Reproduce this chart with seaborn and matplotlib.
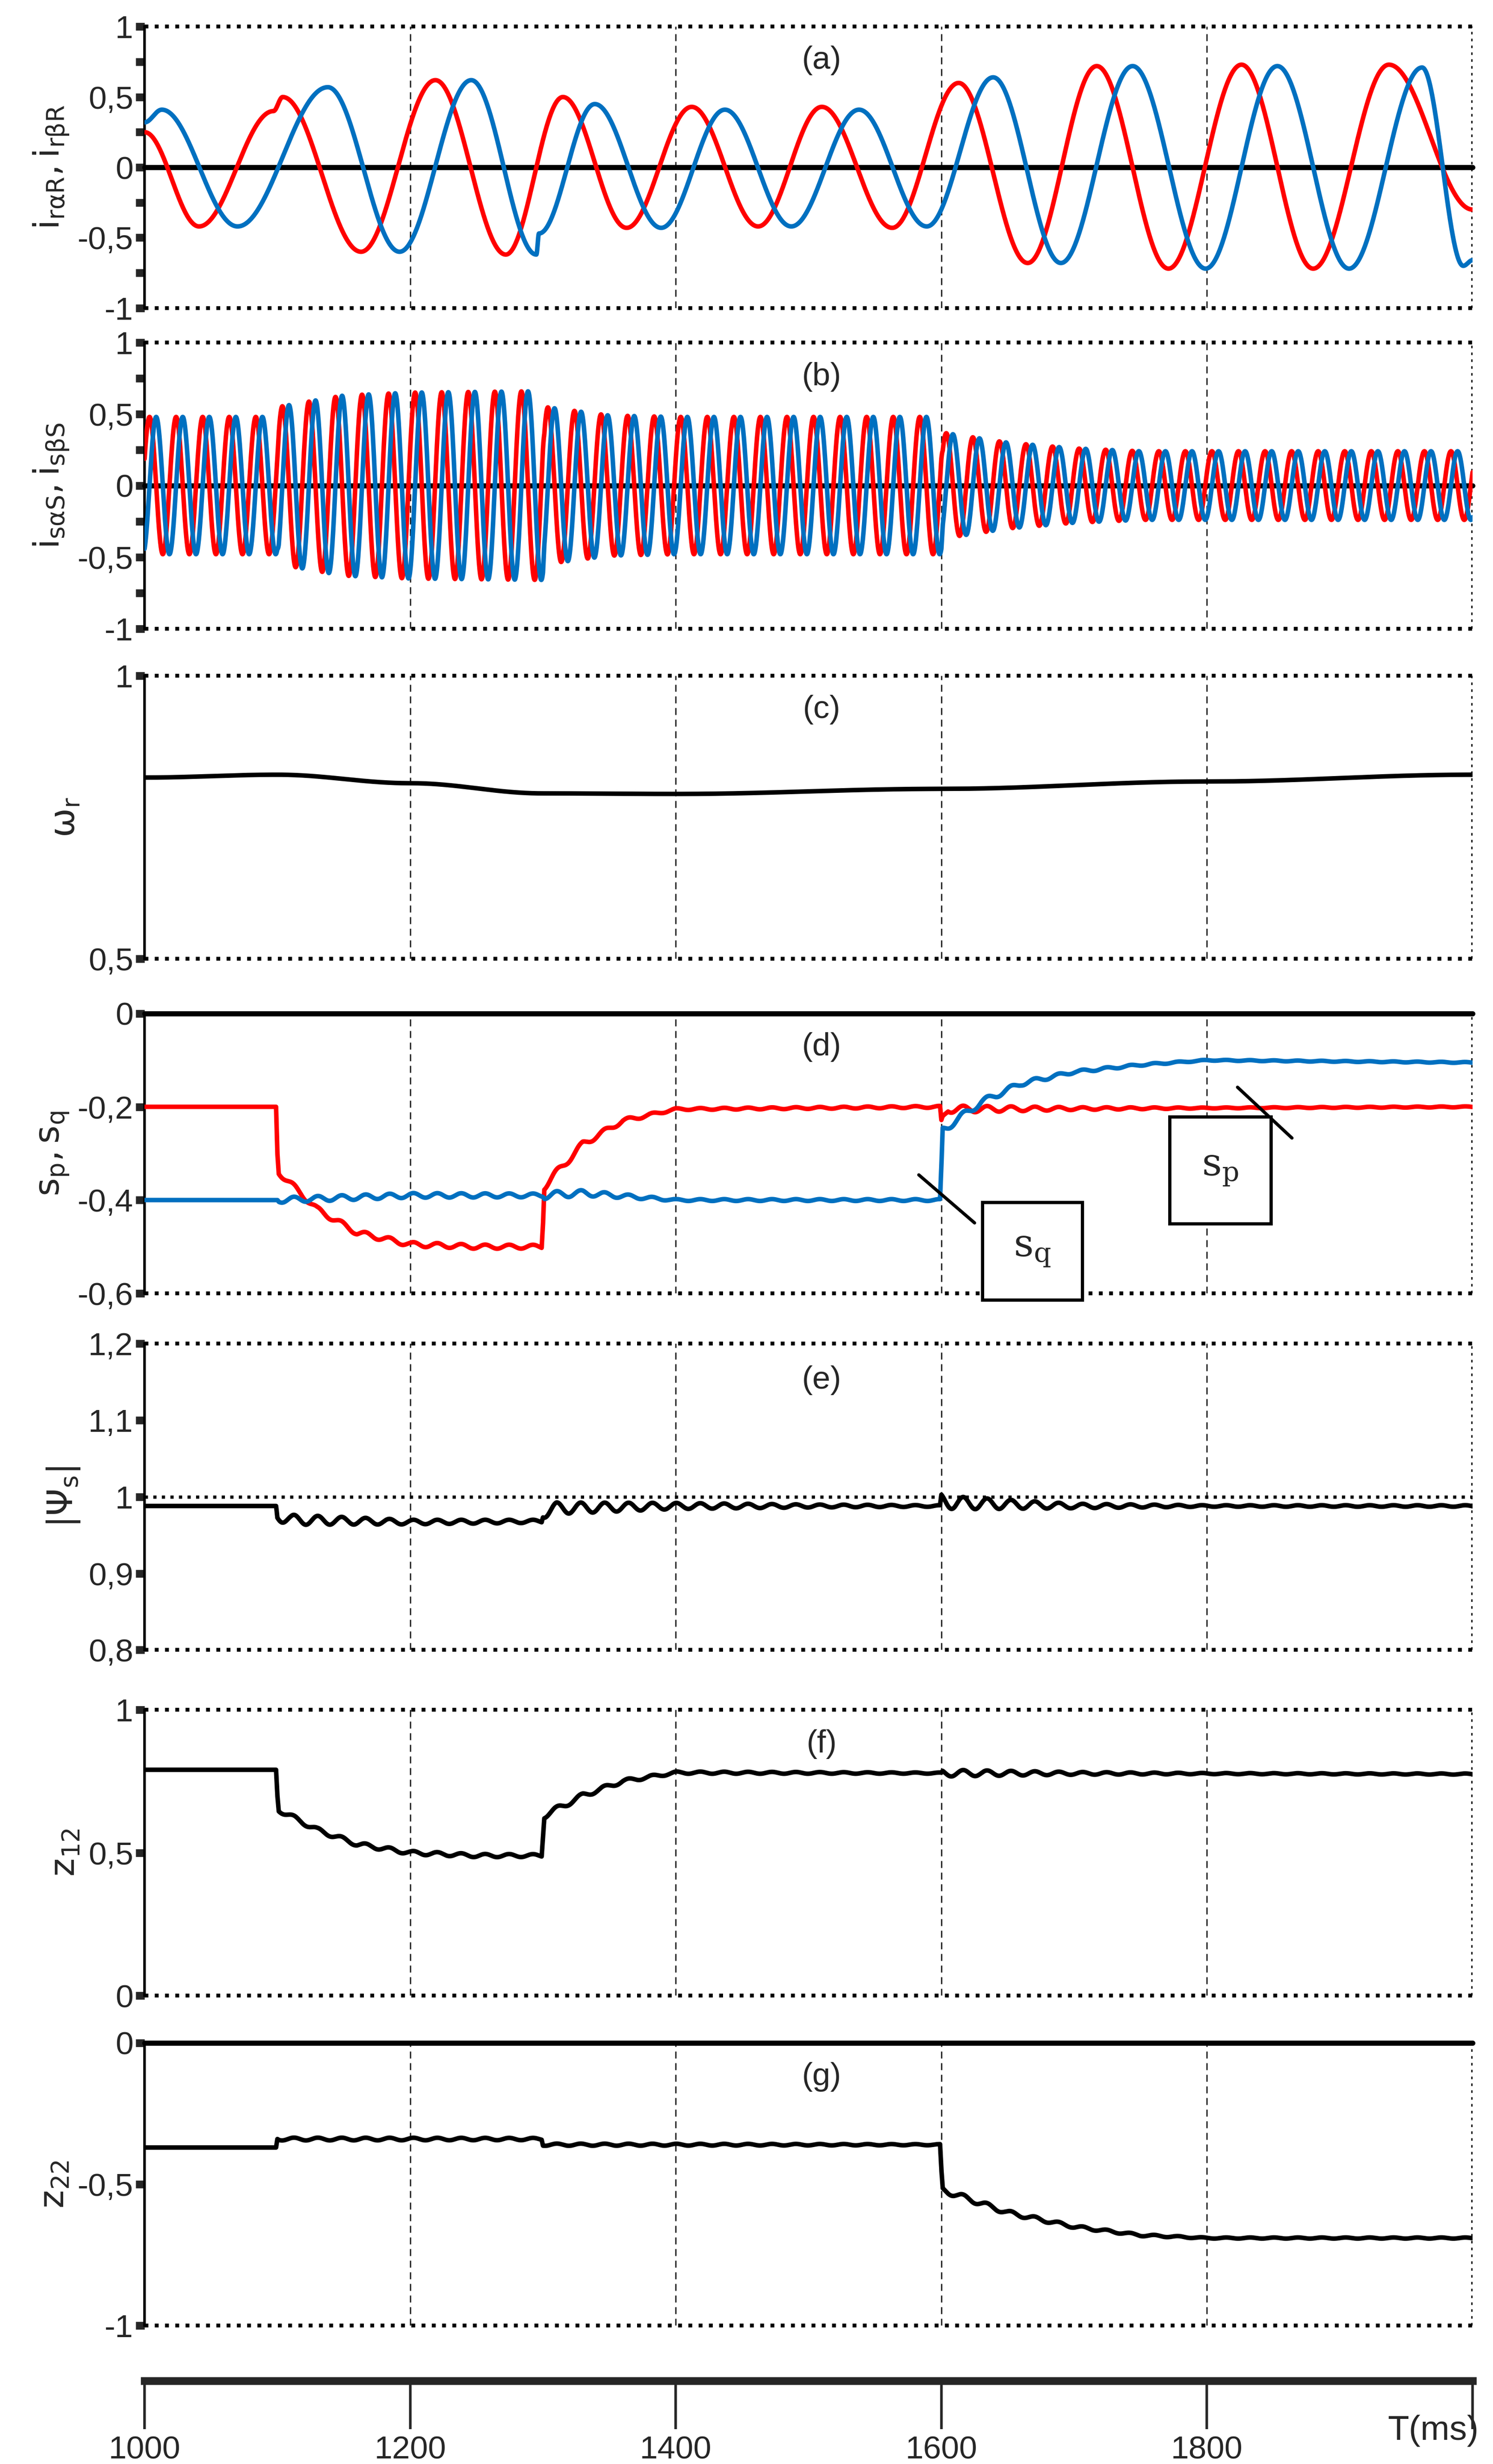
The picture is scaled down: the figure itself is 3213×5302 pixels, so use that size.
import numpy as np
import pandas as pd
import matplotlib
matplotlib.use("Agg")
import matplotlib.pyplot as plt
import seaborn as sns
from matplotlib.ticker import FuncFormatter
from matplotlib.patches import Rectangle

sns.set_style("white")
plt.rcParams['font.family'] = ['Liberation Sans Narrow', 'Liberation Sans', 'DejaVu Sans']
plt.rcParams['mathtext.fontset'] = 'dejavusans'

RED = '#ff0000'
BLUE = '#0070c0'

# ---- (a) rotor currents: extrema (ms, value)
ira_t = [1000, 1041, 1097, 1104, 1163, 1219, 1272, 1315, 1363, 1412, 1462, 1510, 1563, 1613, 1665, 1717, 1771, 1826, 1880, 1937, 2000]
ira_v = [0.25, -0.42, 0.40, 0.50, -0.60, 0.62, -0.62, 0.50, -0.43, 0.43, -0.42, 0.43, -0.43, 0.60, -0.68, 0.72, -0.72, 0.73, -0.72, 0.73, -0.30]
irb_t = [1000, 1013, 1070, 1138, 1192, 1246, 1295, 1297, 1339, 1389, 1437, 1487, 1538, 1589, 1639, 1690, 1744, 1799, 1853, 1907, 1962, 1993, 2000]
irb_v = [0.32, 0.41, -0.42, 0.57, -0.60, 0.62, -0.62, -0.47, 0.45, -0.43, 0.41, -0.42, 0.41, -0.42, 0.64, -0.68, 0.72, -0.72, 0.72, -0.72, 0.71, -0.70, -0.66]

# ---- (b) stator currents: envelope and period
is_env_t = [1000, 1100, 1101, 1150, 1200, 1300, 1301, 1350, 1400, 1600, 1601, 1650, 1700, 1750, 2000]
is_env_a = [0.48, 0.48, 0.55, 0.63, 0.65, 0.66, 0.55, 0.49, 0.48, 0.48, 0.37, 0.30, 0.26, 0.24, 0.24]
is_period = 20.0
is_phase = 0.4

# ---- (c) rotor speed
wr_t = [1000, 1100, 1200, 1300, 1400, 1600, 1800, 2000]
wr_v = [0.820, 0.825, 0.810, 0.792, 0.791, 0.800, 0.813, 0.825]

# ---- (d) slips
sp_t = [1000, 1099, 1100, 1101, 1130, 1160, 1200, 1250, 1299, 1300, 1301, 1330, 1360, 1400, 1599, 1600, 1605, 2000]
sp_v = [-0.20, -0.20, -0.30, -0.34, -0.42, -0.47, -0.495, -0.50, -0.50, -0.45, -0.37, -0.28, -0.23, -0.205, -0.20, -0.23, -0.205, -0.20]
sq_t = [1000, 1100, 1200, 1300, 1330, 1400, 1599, 1600, 1601, 1630, 1660, 1700, 1750, 1800, 2000]
sq_v = [-0.40, -0.40, -0.39, -0.39, -0.385, -0.40, -0.40, -0.33, -0.25, -0.19, -0.15, -0.125, -0.11, -0.10, -0.105]
d_rip_t = [1000, 1100, 1101, 1300, 1301, 1400, 1600, 1601, 1700, 1800, 2000]
d_rip_a = [0.0, 0.0, 0.006, 0.004, 0.008, 0.002, 0.002, 0.008, 0.003, 0.001, 0.001]

# ---- (e) stator flux magnitude
ps_t = [1000, 1099, 1100, 1110, 1200, 1299, 1300, 1310, 1400, 1599, 1600, 1610, 1700, 2000]
ps_v = [0.988, 0.988, 0.975, 0.970, 0.967, 0.968, 0.980, 0.985, 0.988, 0.988, 0.995, 0.992, 0.988, 0.988]
e_rip_t = [1000, 1099, 1100, 1200, 1299, 1300, 1400, 1500, 1599, 1600, 1700, 1800, 2000]
e_rip_a = [0.0, 0.0, 0.007, 0.003, 0.002, 0.008, 0.004, 0.002, 0.001, 0.009, 0.003, 0.001, 0.001]

# ---- (f) z12
z12_t = [1000, 1099, 1100, 1101, 1130, 1160, 1200, 1250, 1299, 1300, 1301, 1330, 1360, 1400, 2000]
z12_v = [0.79, 0.79, 0.70, 0.65, 0.58, 0.53, 0.50, 0.49, 0.49, 0.56, 0.63, 0.70, 0.75, 0.78, 0.775]
f_rip_t = [1000, 1100, 1101, 1300, 1301, 1400, 1600, 1601, 1700, 1800, 2000]
f_rip_a = [0.0, 0.0, 0.008, 0.005, 0.01, 0.004, 0.002, 0.012, 0.005, 0.002, 0.002]

# ---- (g) z22
z22_t = [1000, 1099, 1100, 1299, 1300, 1599, 1600, 1601, 1650, 1700, 1750, 1800, 2000]
z22_v = [-0.37, -0.37, -0.34, -0.34, -0.36, -0.36, -0.45, -0.52, -0.60, -0.65, -0.68, -0.69, -0.69]
g_rip_t = [1000, 1100, 1101, 1300, 1301, 1600, 1601, 1700, 1800, 2000]
g_rip_a = [0.0, 0.0, 0.005, 0.004, 0.004, 0.002, 0.01, 0.005, 0.002, 0.002]

t = np.linspace(1000, 2000, 20001)


def halfcos(tk, vk):
    out = np.empty_like(t)
    for i in range(len(tk) - 1):
        t0, t1, v0, v1 = tk[i], tk[i + 1], vk[i], vk[i + 1]
        m = (t >= t0) & (t <= t1)
        s = (t[m] - t0) / (t1 - t0)
        out[m] = v0 + (v1 - v0) * (1 - np.cos(np.pi * s)) / 2
    return out


def with_ripple(tk, vk, rt, ra, period=18.0):
    base = np.interp(t, tk, vk)
    return base + np.interp(t, rt, ra) * np.sin(2 * np.pi * (t - 1000) / period)


fig = plt.figure(figsize=(32.13, 53.02), dpi=100)
H = 1568.0
W = 950.0
L, R = 92 / W, 937 / W
panels = [(17, 196), (218, 400), (430, 610), (645, 823), (855, 1050), (1088, 1270), (1300, 1480)]
axes = []
for top, bot in panels:
    axes.append(fig.add_axes([L, 1 - bot / H, R - L, (bot - top) / H]))

comma = FuncFormatter(lambda v, p: ('%g' % v).replace('.', ','))
FS = 50
LW = 7


def style(ax, ylim, ticks, minor, label, tag, zero_solid=None):
    ax.set_xlim(1000, 2000)
    ax.set_ylim(*ylim)
    for s in ['top', 'right', 'bottom']:
        ax.spines[s].set_visible(False)
    ax.spines['left'].set_linewidth(4)
    ax.spines['left'].set_color('black')
    ax.set_xticks([])
    ax.set_yticks(ticks)
    ax.set_yticks(minor, minor=True)
    ax.yaxis.set_major_formatter(comma)
    ax.tick_params(axis='y', which='both', direction='out', length=14, width=12, labelsize=FS, left=True)
    for x in [1200, 1400, 1600, 1800]:
        ax.axvline(x, color='black', ls=(0, (6, 4)), lw=1.8, zorder=1)
    ax.axvline(2000, color='black', ls=':', lw=4, zorder=1)
    for y in ylim:
        if zero_solid is not None and y == zero_solid:
            continue
        ax.axhline(y, color='black', ls=':', lw=6, zorder=1, clip_on=False)
    if zero_solid is not None:
        ax.axhline(zero_solid, color='black', lw=8, zorder=2, clip_on=False)
    ax.set_ylabel(label, fontsize=FS + 4, labelpad=10)
    ax.text(1510, ylim[1] - 0.12 * (ylim[1] - ylim[0]), tag, fontsize=FS, ha='center', va='center')


def line(ax, y, color, z=3):
    sns.lineplot(x=t, y=y, ax=ax, color=color, lw=LW, estimator=None, sort=False, zorder=z)


# (a)
ax = axes[0]
line(ax, halfcos(ira_t, ira_v), RED)
line(ax, halfcos(irb_t, irb_v), BLUE, 4)
style(ax, (-1, 1), [-1, -0.5, 0, 0.5, 1], [-0.75, -0.25, 0.25, 0.75],
      r'$\mathrm{i_{r\alpha R}, i_{r\beta R}}$', '(a)', zero_solid=0)

# (b)
ax = axes[1]
env = np.interp(t, is_env_t, is_env_a)
ph = 2 * np.pi * (t - 1000) / is_period + is_phase
line(ax, env * np.sin(ph), RED)
line(ax, -env * np.cos(ph), BLUE, 4)
style(ax, (-1, 1), [-1, -0.5, 0, 0.5, 1], [-0.75, -0.25, 0.25, 0.75],
      r'$\mathrm{i_{s\alpha S}, i_{s\beta S}}$', '(b)', zero_solid=0)

# (c)
ax = axes[2]
line(ax, halfcos(wr_t, wr_v), 'black')
style(ax, (0.5, 1), [0.5, 1], [], r'$\mathrm{\omega_r}$', '(c)')

# (d)
ax = axes[3]
line(ax, with_ripple(sp_t, sp_v, d_rip_t, d_rip_a), RED)
line(ax, with_ripple(sq_t, sq_v, d_rip_t, d_rip_a), BLUE, 4)
style(ax, (-0.6, 0), [-0.6, -0.4, -0.2, 0], [], r'$\mathrm{s_p, s_q}$', '(d)', zero_solid=0)
ax.plot([1583, 1625], [-0.346, -0.449], color='black', lw=5, zorder=6)
ax.plot([1823, 1864], [-0.158, -0.267], color='black', lw=5, zorder=6)
for (x0, x1, y0, y1, txt) in [(1631, 1706, -0.614, -0.405, r'$\mathrm{s_q}$'),
                              (1772, 1848, -0.451, -0.221, r'$\mathrm{s_p}$')]:
    ax.add_patch(Rectangle((x0, y0), x1 - x0, y1 - y0, fc='white', ec='black', lw=5,
                           zorder=7, clip_on=False))
    ax.text((x0 + x1) / 2, (y0 + y1) / 2, txt, fontsize=FS + 10, ha='center', va='center',
            zorder=8, math_fontfamily='dejavuserif')

# (e)
ax = axes[4]
line(ax, with_ripple(ps_t, ps_v, e_rip_t, e_rip_a), 'black')
style(ax, (0.8, 1.2), [0.8, 0.9, 1.0, 1.1, 1.2], [], r'$\mathrm{|\Psi_s|}$', '(e)')
ax.axhline(1.0, color='black', ls=':', lw=5, zorder=1)

# (f)
ax = axes[5]
line(ax, with_ripple(z12_t, z12_v, f_rip_t, f_rip_a), 'black')
style(ax, (0, 1), [0, 0.5, 1], [], r'$\mathrm{z_{12}}$', '(f)')

# (g)
ax = axes[6]
line(ax, with_ripple(z22_t, z22_v, g_rip_t, g_rip_a), 'black')
style(ax, (-1, 0), [-1, -0.5, 0], [], r'$\mathrm{z_{22}}$', '(g)', zero_solid=0)

# bottom time axis
bx = fig.add_axes([L, 1 - 1515 / H, R - L, 0.002])
bx.set_xlim(1000, 2000)
for s in ['top', 'right', 'left']:
    bx.spines[s].set_visible(False)
bx.spines['bottom'].set_linewidth(12)
bx.patch.set_alpha(0)
bx.set_yticks([])
bx.set_xticks([1000, 1200, 1400, 1600, 1800, 2000])
bx.set_xticklabels(['1000', '1200', '1400', '1600', '1800', ''])
bx.tick_params(axis='x', bottom=True, direction='out', length=75, width=4, labelsize=FS, pad=10)
fig.text(R + 0.004, 1 - 1547 / H, 'T(ms)', fontsize=FS + 4, ha='right', va='center')

fig.savefig('out.png', dpi=100)
